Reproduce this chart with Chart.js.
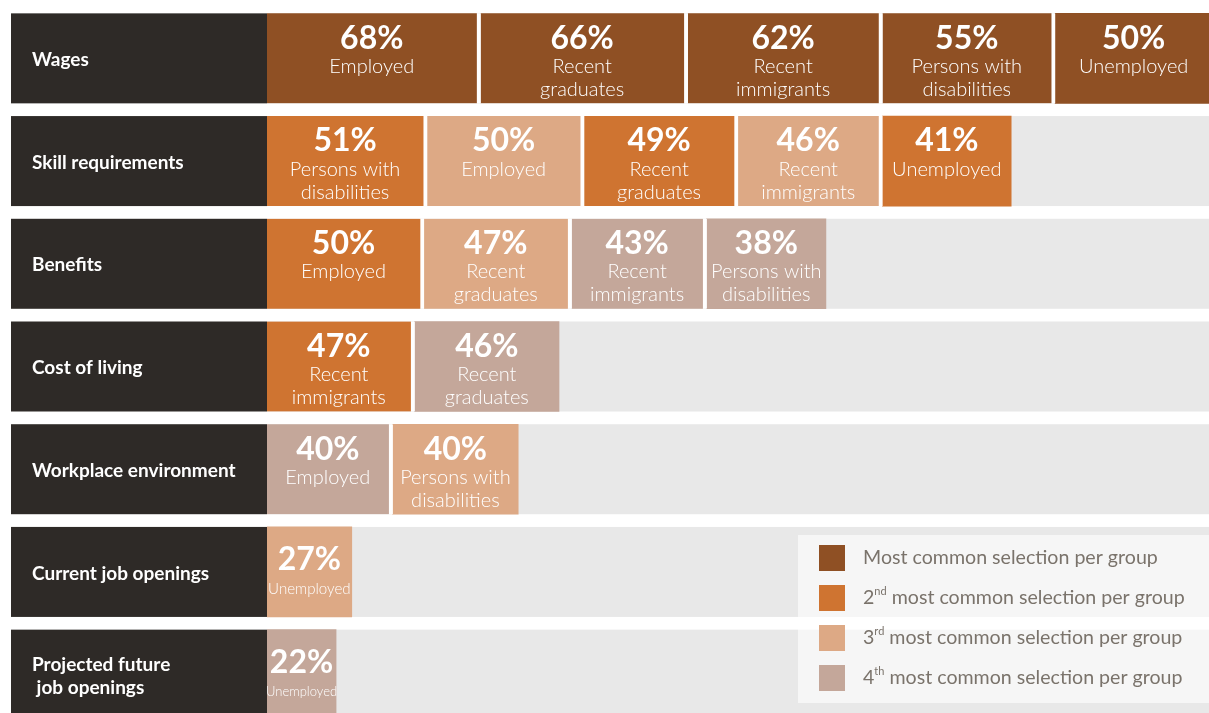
<html>
<head>
  <title>Factors by group</title>
  <script src="https://cdn.jsdelivr.net/npm/chart.js@4.4.0/dist/chart.umd.min.js"></script>
  <style>
    body { margin: 0; overflow: hidden; background: #fff; }
    #wrap { position: relative; width: 1209px; height: 726px; }
  </style>
</head>
<body>
  <div id="wrap"><canvas id="factorChart"></canvas></div>

  <script>
    // rows (left labels)
    const categories = ['Wages', 'Skill requirements', 'Benefits', 'Cost of living',
      'Workplace environment', 'Current job openings', ['Projected future', ' job openings']];

    // segment 1..5 of each row, left to right
    const seg1Values = [68, 51, 50, 47, 40, 27, 22];
    const seg1Groups = ['Employed', 'Persons with disabilities', 'Employed', 'Recent immigrants', 'Employed', 'Unemployed', 'Unemployed'];
    const seg1Ranks = [1, 2, 2, 2, 4, 3, 4];

    const seg2Values = [66, 50, 47, 46, 40, null, null];
    const seg2Groups = ['Recent graduates', 'Employed', 'Recent graduates', 'Recent graduates', 'Persons with disabilities', null, null];
    const seg2Ranks = [1, 3, 3, 4, 3, null, null];

    const seg3Values = [62, 49, 43, null, null, null, null];
    const seg3Groups = ['Recent immigrants', 'Recent graduates', 'Recent immigrants', null, null, null, null];
    const seg3Ranks = [1, 2, 4, null, null, null, null];

    const seg4Values = [55, 46, 38, null, null, null, null];
    const seg4Groups = ['Persons with disabilities', 'Recent immigrants', 'Persons with disabilities', null, null, null, null];
    const seg4Ranks = [1, 3, 4, null, null, null, null];

    const seg5Values = [50, 41, null, null, null, null, null];
    const seg5Groups = ['Unemployed', 'Unemployed', null, null, null, null, null];
    const seg5Ranks = [1, 2, null, null, null, null, null];

    const rankColors = ['#8f5024', '#cf7431', '#dda985', '#c4a79a'];
    const rankLabels = ['Most common', '2nd most common', '3rd most common', '4th most common'];
    const legendSuffix = ' selection per group';

    const segValues = [seg1Values, seg2Values, seg3Values, seg4Values, seg5Values];
    const segGroups = [seg1Groups, seg2Groups, seg3Groups, seg4Groups, seg5Groups];
    const segRanks = [seg1Ranks, seg2Ranks, seg3Ranks, seg4Ranks, seg5Ranks];

    const BAR_H = 90;
    const FONT = 'Lato, "Open Sans", sans-serif';

    function wrapGroup(name) {
      const w = name.split(' ');
      if (w.length < 2) return [name];
      return [w.slice(0, -1).join(' '), w[w.length - 1]];
    }

    const datasets = segValues.map((vals, d) => ({
      label: 'Segment ' + (d + 1),
      data: vals,
      backgroundColor: segRanks[d].map(r => r ? rankColors[r - 1] : 'transparent'),
      borderColor: '#ffffff',
      borderSkipped: false,
      borderWidth: (ctx) => {
        const next = segValues[d + 1];
        return (next && next[ctx.dataIndex] != null) ? { top: 0, bottom: 0, left: 0, right: 4 } : 0;
      },
      barThickness: BAR_H,
      stack: 'row'
    }));

    // grey tracks + dark row labels behind the bars
    const backdropPlugin = {
      id: 'backdrop',
      beforeDatasetsDraw(chart) {
        const { ctx, chartArea, scales } = chart;
        ctx.save();
        categories.forEach((cat, i) => {
          const yc = scales.y.getPixelForValue(i);
          const top = yc - BAR_H / 2;
          ctx.fillStyle = '#e8e8e8';
          ctx.fillRect(chartArea.left, top, chart.width - chartArea.left, BAR_H);
          ctx.fillStyle = '#2e2a27';
          ctx.fillRect(11, top, chartArea.left - 11, BAR_H);
          ctx.fillStyle = '#ffffff';
          ctx.font = 'bold 19px ' + FONT;
          ctx.textBaseline = 'middle';
          ctx.textAlign = 'left';
          const lines = Array.isArray(cat) ? cat : [cat];
          lines.forEach((ln, k) => {
            const y = yc + 1.5 + (k - (lines.length - 1) / 2) * 23;
            ctx.fillText(ln, 32, y);
          });
        });
        ctx.restore();
      }
    };

    // percentage + group name inside each segment, and the legend box
    const textPlugin = {
      id: 'segText',
      afterDatasetsDraw(chart) {
        const { ctx } = chart;
        ctx.save();
        ctx.textAlign = 'center';
        ctx.textBaseline = 'middle';
        ctx.fillStyle = '#ffffff';
        chart.data.datasets.forEach((ds, d) => {
          const meta = chart.getDatasetMeta(d);
          meta.data.forEach((bar, i) => {
            const v = segValues[d][i];
            if (v == null) return;
            const hasNext = segValues[d + 1] && segValues[d + 1][i] != null;
            const left = bar.base;
            const right = bar.x - (hasNext ? 4 : 0);
            const cx = (left + Math.min(right, chart.width + 20)) / 2;
            const top = bar.y - BAR_H / 2;
            const avail = right - left - 2;
            const lines = wrapGroup(segGroups[d][i]);
            let size = 20;
            ctx.font = '300 ' + size + 'px ' + FONT;
            const widest = Math.max(...lines.map(l => ctx.measureText(l).width));
            let shrunk = false;
            if (widest > avail) {
              size = Math.max(13, Math.floor(size * avail / widest * 10) / 10);
              shrunk = true;
            }
            ctx.font = 'bold 32px ' + FONT;
            ctx.fillText(v + '%', cx, top + (shrunk ? 33 : 25));
            ctx.font = '300 ' + size + 'px ' + FONT;
            lines.forEach((ln, k) => {
              ctx.fillText(ln, cx, top + (shrunk ? 62 : 53) + k * 23);
            });
          });
        });
        ctx.restore();
      },
      afterDraw(chart) {
        const { ctx } = chart;
        ctx.save();
        ctx.fillStyle = 'rgba(255,255,255,0.62)';
        ctx.fillRect(798, 535, chart.width - 798, 168);
        const big = '19.6px ' + FONT;
        rankLabels.forEach((lab, i) => {
          const yc = 558 + i * 40;
          ctx.fillStyle = rankColors[i];
          ctx.fillRect(819, yc - 13, 26, 26);
          ctx.fillStyle = '#7a736b';
          ctx.textAlign = 'left';
          ctx.textBaseline = 'middle';
          let x = 863;
          const m = lab.match(/^(\d)(st|nd|rd|th)(.*)$/);
          if (m) {
            ctx.font = big;
            ctx.fillText(m[1], x, yc);
            x += ctx.measureText(m[1]).width;
            ctx.font = '11px ' + FONT;
            ctx.fillText(m[2], x, yc - 7);
            x += ctx.measureText(m[2]).width;
            ctx.font = big;
            ctx.fillText(m[3] + legendSuffix, x, yc);
          } else {
            ctx.font = big;
            ctx.fillText(lab + legendSuffix, x, yc);
          }
        });
        ctx.restore();
      }
    };

    const chart = new Chart(document.getElementById('factorChart').getContext('2d'), {
      type: 'bar',
      data: {
        labels: categories.map(c => Array.isArray(c) ? c.join(' ') : c),
        datasets: datasets
      },
      options: {
        indexAxis: 'y',
        responsive: true,
        maintainAspectRatio: false,
        animation: false,
        layout: { padding: { left: 267, top: 7, right: 0, bottom: 0 } },
        scales: {
          x: { stacked: true, min: 0, max: 300, display: false },
          y: { stacked: true, display: false }
        },
        plugins: {
          legend: { display: false },
          tooltip: { enabled: false }
        }
      },
      plugins: [backdropPlugin, textPlugin]
    });
  </script>
</body>
</html>
